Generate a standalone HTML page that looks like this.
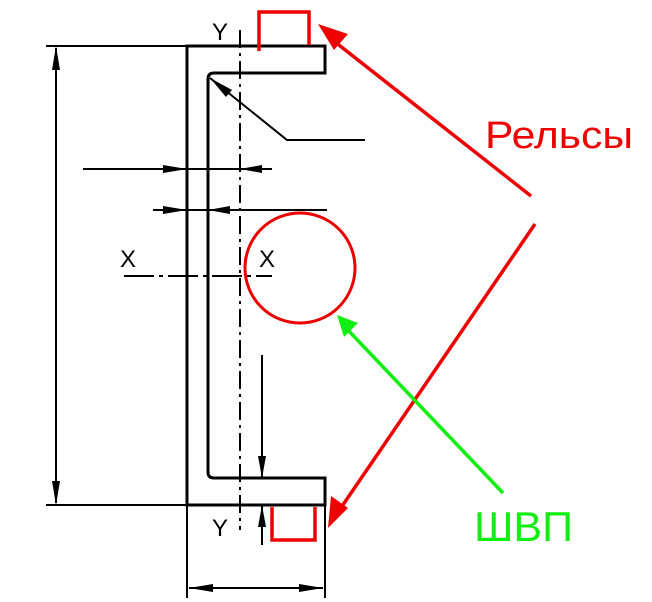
<!DOCTYPE html>
<html><head><meta charset="utf-8"><style>html,body{margin:0;padding:0;background:#fff}svg{display:block}</style></head>
<body>
<svg width="652" height="602" viewBox="0 0 652 602" xmlns="http://www.w3.org/2000/svg" font-family="Liberation Sans, DejaVu Sans, sans-serif">
<g stroke="#000" fill="none">
<path d="M187,46 H325 V73 H214 Q208,73 208,79 V472 Q208,478 214,478 H325 V505 H187 Z" stroke-width="3"/>
<line x1="240" y1="30" x2="240" y2="530" stroke-width="2" stroke-dasharray="18,5,3,5"/>
<line x1="124" y1="276" x2="272" y2="276" stroke-width="2" stroke-dasharray="30,5,4,5"/>
<line x1="46" y1="46" x2="187" y2="46" stroke-width="2"/>
<line x1="46" y1="505" x2="187" y2="505" stroke-width="2"/>
<line x1="56" y1="48" x2="56" y2="503" stroke-width="2"/>
<line x1="187" y1="505" x2="187" y2="598" stroke-width="2"/>
<line x1="325" y1="505" x2="325" y2="598" stroke-width="2"/>
<line x1="189" y1="588" x2="323" y2="588" stroke-width="2"/>
<line x1="83" y1="169" x2="272" y2="169" stroke-width="2"/>
<line x1="153" y1="210" x2="327" y2="210" stroke-width="2"/>
<polyline points="210,78 287,140 365,140" stroke-width="2"/>
<line x1="262" y1="355" x2="262" y2="478" stroke-width="2"/>
<line x1="262" y1="505" x2="262" y2="545" stroke-width="2"/>
</g>
<g fill="#000">
<polygon points="56,46 52,70 60,70"/><polygon points="56,505 52,481 60,481"/>
<polygon points="189,588 213,584 213,592"/><polygon points="323,588 299,584 299,592"/>
<polygon points="187,169 163,165 163,173"/><polygon points="240,169 262,165 262,173"/>
<polygon points="187,210 163,206 163,214"/><polygon points="208,210 230,206 230,214"/>
<polygon points="210,78 232,90 226,97"/>
<polygon points="262,478 258,456 266,456"/><polygon points="262,505 258,527 266,527"/>
<text x="212" y="40" font-size="24">Y</text>
<text x="212" y="536" font-size="24">Y</text>
<text x="120" y="267" font-size="24">X</text>
<text x="259" y="267" font-size="24">X</text>
</g>
<g stroke="#e00" fill="none" stroke-width="3.5">
<polyline points="259,51 259,12 309,12 309,45"/>
<polyline points="272,507 272,540 315,540 315,507"/>
<circle cx="300" cy="268" r="55" stroke-width="3"/>
<line x1="531" y1="196" x2="330" y2="38"/>
<line x1="535" y1="224" x2="336" y2="515"/>
</g>
<g fill="#e00">
<polygon points="318,24 348,34 334,50"/>
<polygon points="328,528 331,496 348,508"/>
<text x="485" y="148" font-size="38" textLength="148" lengthAdjust="spacingAndGlyphs">Рельсы</text>
</g>
<g stroke="#11ee11" stroke-width="3.5"><line x1="503" y1="493" x2="346" y2="328"/></g>
<g fill="#11ee11">
<polygon points="337,315 358,323 344,337"/>
<text x="474" y="541" font-size="42" textLength="99" lengthAdjust="spacingAndGlyphs">ШВП</text>
</g>
</svg>
</body></html>
